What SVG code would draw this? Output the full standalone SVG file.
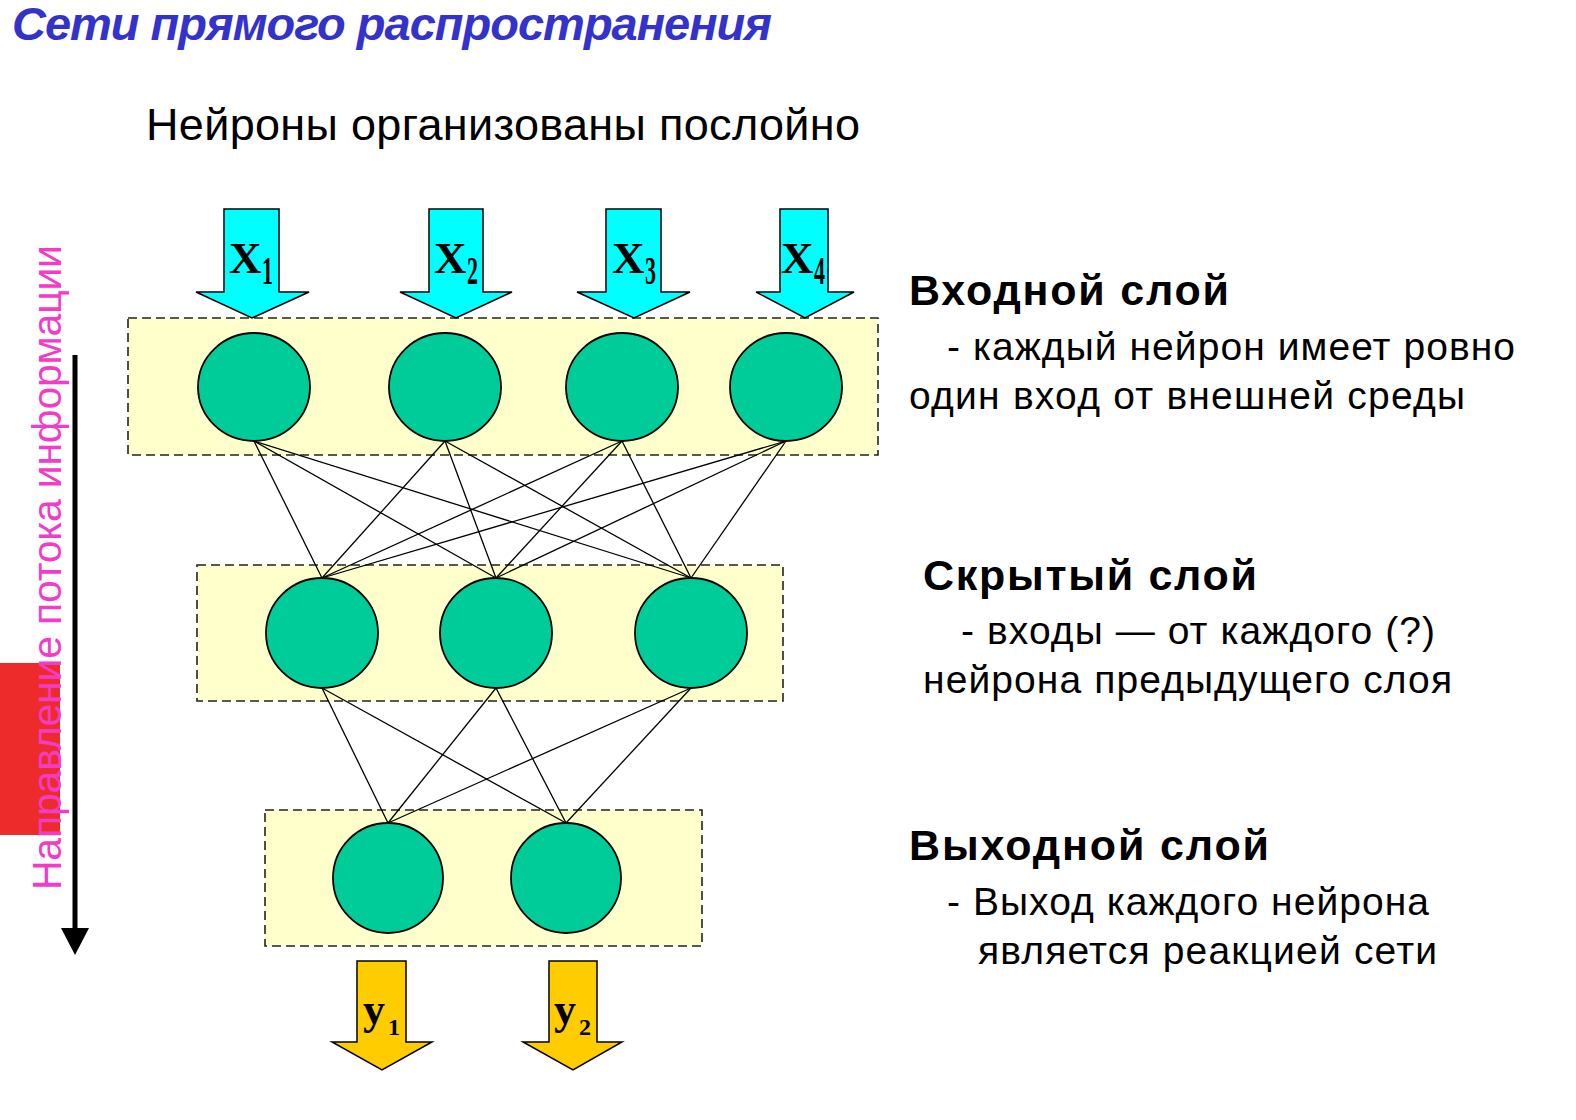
<svg xmlns="http://www.w3.org/2000/svg" width="1576" height="1120" viewBox="0 0 1576 1120">
<defs>
<style>
.layer{fill:#ffffcc;stroke:#222;stroke-width:1.6;stroke-dasharray:9 5}
.neuron{fill:#00cc99;stroke:#000;stroke-width:1.8}
.edge{stroke:#000;stroke-width:1.3;fill:none}
.inarrow{fill:#00ffff;stroke:#000;stroke-width:1.5;stroke-linejoin:miter}
.outarrow{fill:#ffcc00;stroke:#000;stroke-width:1.5}
.sym{font-family:"Liberation Serif","Times New Roman",serif;font-weight:bold;fill:#000}
.txt{font-family:"Liberation Sans",Arial,sans-serif;fill:#000}
.bold{font-weight:bold}
</style>
</defs>
<rect width="1576" height="1120" fill="#ffffff"/>

<text class="txt" x="12" y="40" font-size="47" font-weight="bold" font-style="italic" style="fill:#3333cc" textLength="760">Сети прямого распространения</text>
<text class="txt" x="146" y="140" font-size="45" textLength="714">Нейроны организованы послойно</text>

<g id="flow-direction">
<rect x="0" y="663" width="60" height="172" fill="#ee2b2b"/>
<text class="txt" transform="translate(61,890) rotate(-90)" font-size="41" style="fill:#f23cc8" textLength="645">Направление потока информации</text>
<line x1="75" y1="355" x2="75" y2="932" stroke="#000" stroke-width="5"/>
<polygon points="61,928 89,928 75,955" fill="#000"/>
</g>

<g id="layer-input"><rect class="layer" x="128" y="318" width="750" height="137"/></g>
<g id="layer-hidden"><rect class="layer" x="197" y="565" width="586" height="136"/></g>
<g id="layer-output"><rect class="layer" x="265" y="810" width="437" height="136"/></g>

<g id="connectors">
<line class="edge" x1="254" y1="441" x2="322" y2="578"/>
<line class="edge" x1="254" y1="441" x2="496" y2="578"/>
<line class="edge" x1="254" y1="441" x2="691" y2="578"/>
<line class="edge" x1="445" y1="441" x2="322" y2="578"/>
<line class="edge" x1="445" y1="441" x2="496" y2="578"/>
<line class="edge" x1="445" y1="441" x2="691" y2="578"/>
<line class="edge" x1="622" y1="441" x2="322" y2="578"/>
<line class="edge" x1="622" y1="441" x2="496" y2="578"/>
<line class="edge" x1="622" y1="441" x2="691" y2="578"/>
<line class="edge" x1="786" y1="441" x2="322" y2="578"/>
<line class="edge" x1="786" y1="441" x2="496" y2="578"/>
<line class="edge" x1="786" y1="441" x2="691" y2="578"/>
<line class="edge" x1="322" y1="688" x2="388" y2="823"/>
<line class="edge" x1="322" y1="688" x2="566" y2="823"/>
<line class="edge" x1="496" y1="688" x2="388" y2="823"/>
<line class="edge" x1="496" y1="688" x2="566" y2="823"/>
<line class="edge" x1="691" y1="688" x2="388" y2="823"/>
<line class="edge" x1="691" y1="688" x2="566" y2="823"/>
</g>

<g id="input-x1">
<polygon class="inarrow" points="224,209 279,209 279,292 309,292 252,318 196,292 224,292"/>
<text class="sym" x="229" y="273" font-size="45">X</text>
<text class="sym" transform="translate(262,284) scale(0.55,1)" font-size="40">1</text>
</g>
<g id="input-x2">
<polygon class="inarrow" points="429,209 483,209 483,292 512,292 456,318 400,292 429,292"/>
<text class="sym" x="434" y="273" font-size="45">X</text>
<text class="sym" transform="translate(467,284) scale(0.55,1)" font-size="40">2</text>
</g>
<g id="input-x3">
<polygon class="inarrow" points="606,209 661,209 661,292 690,292 634,318 577,292 606,292"/>
<text class="sym" x="612" y="273" font-size="45">X</text>
<text class="sym" transform="translate(645,284) scale(0.55,1)" font-size="40">3</text>
</g>
<g id="input-x4">
<polygon class="inarrow" points="780,209 828,209 828,292 854,292 805,318 756,292 780,292"/>
<text class="sym" x="781" y="273" font-size="45">X</text>
<text class="sym" transform="translate(814,284) scale(0.55,1)" font-size="40">4</text>
</g>

<g id="neuron-in1"><ellipse class="neuron" cx="254" cy="387" rx="56" ry="54"/></g>
<g id="neuron-in2"><ellipse class="neuron" cx="445" cy="387" rx="56" ry="54"/></g>
<g id="neuron-in3"><ellipse class="neuron" cx="622" cy="387" rx="56" ry="54"/></g>
<g id="neuron-in4"><ellipse class="neuron" cx="786" cy="387" rx="56" ry="54"/></g>

<g id="neuron-h1"><ellipse class="neuron" cx="322" cy="633" rx="56" ry="55"/></g>
<g id="neuron-h2"><ellipse class="neuron" cx="496" cy="633" rx="56" ry="55"/></g>
<g id="neuron-h3"><ellipse class="neuron" cx="691" cy="633" rx="56" ry="55"/></g>

<g id="neuron-o1"><ellipse class="neuron" cx="388" cy="878" rx="55" ry="55"/></g>
<g id="neuron-o2"><ellipse class="neuron" cx="566" cy="878" rx="55" ry="55"/></g>

<g id="output-y1">
<polygon class="outarrow" points="357,961 406,961 406,1042 432,1042 382,1070 332,1042 357,1042"/>
<text class="sym" x="363" y="1024" font-size="44">y</text>
<text class="sym" x="388" y="1035" font-size="24">1</text>
</g>
<g id="output-y2">
<polygon class="outarrow" points="549,961 597,961 597,1042 622,1042 573,1070 523,1042 549,1042"/>
<text class="sym" x="554" y="1024" font-size="44">y</text>
<text class="sym" x="579" y="1035" font-size="24">2</text>
</g>

<g id="desc-input">
<text class="txt bold" x="909" y="305" font-size="43" textLength="320">Входной слой</text>
<text class="txt" x="947" y="360" font-size="39" textLength="568">- каждый нейрон имеет ровно</text>
<text class="txt" x="909" y="409" font-size="39" textLength="556">один вход от внешней среды</text>
</g>
<g id="desc-hidden">
<text class="txt bold" x="923" y="590" font-size="43" textLength="334">Скрытый слой</text>
<text class="txt" x="961" y="644" font-size="39" textLength="474">- входы — от каждого (?)</text>
<text class="txt" x="923" y="693" font-size="39" textLength="529">нейрона предыдущего слоя</text>
</g>
<g id="desc-output">
<text class="txt bold" x="909" y="860" font-size="43" textLength="360">Выходной слой</text>
<text class="txt" x="947" y="915" font-size="39" textLength="482">- Выход каждого нейрона</text>
<text class="txt" x="978" y="964" font-size="39" textLength="459">является реакцией сети</text>
</g>
</svg>
